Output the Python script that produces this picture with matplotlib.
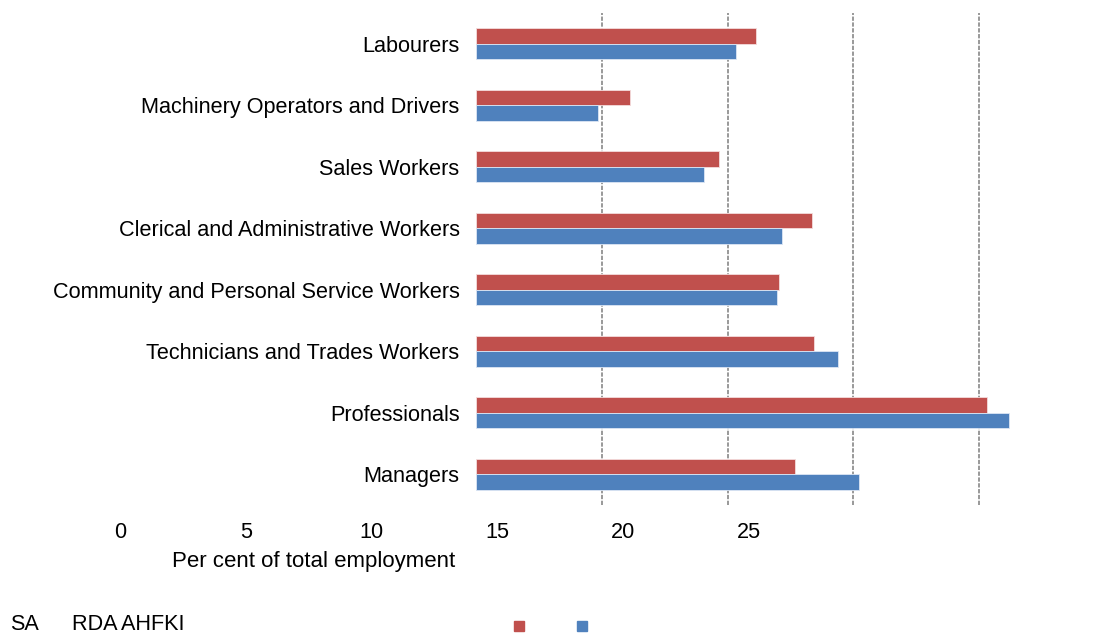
import matplotlib
matplotlib.use("Agg")
import matplotlib.pyplot as plt
import matplotlib.transforms as mtransforms
from matplotlib.patches import Rectangle
import numpy as np

plt.rcParams['font.family'] = ['Liberation Sans', 'DejaVu Sans']

# Occupations, listed bottom to top
occupations = [
    "Managers",
    "Professionals",
    "Technicians and Trades Workers",
    "Community and Personal Service Workers",
    "Clerical and Administrative Workers",
    "Sales Workers",
    "Machinery Operators and Drivers",
    "Labourers",
]
series_names = ["SA", "RDA AHFKI"]
sa_values = [12.68, 20.31, 13.44, 12.05, 13.37, 9.65, 6.14, 11.15]
rda_values = [15.23, 21.18, 14.41, 11.97, 12.18, 9.08, 4.86, 10.35]
x_ticks = [0, 5, 10, 15, 20, 25]
gridlines = [5, 10, 15, 20]
x_label = "Per cent of total employment"

red = "#C0504D"
blue = "#4F81BD"

W, H = 1095, 635
fig = plt.figure(figsize=(W / 100, H / 100), dpi=100)

left_px, right_px = 476, 1104.8
top_px, bottom_px = 13, 505
ax = fig.add_axes([left_px / W, 1 - bottom_px / H,
                   (right_px - left_px) / W, (bottom_px - top_px) / H])

y = np.arange(len(occupations))
bh = 0.25
ax.barh(y + bh / 2, sa_values, height=bh, color=red,
        edgecolor="#f4dcdc", linewidth=0.6, zorder=3)
ax.barh(y - bh / 2, rda_values, height=bh, color=blue,
        edgecolor="#dce6f4", linewidth=0.6, zorder=3)

for g in gridlines:
    ax.axvline(g, color="#999999", linewidth=1.4,
               linestyle=(0, (2.2, 0.8)), zorder=1)

ax.set_xlim(0, 25)
ax.set_ylim(-0.5, len(occupations) - 0.5)
for s in ax.spines.values():
    s.set_visible(False)

ax.set_yticks(y)
ax.set_yticklabels(occupations, fontsize=15.6)
ax.tick_params(axis="y", length=0, pad=11.8)
ax.set_xticks([])

# Value labels along the horizontal scale, set off to the left
shifted = mtransforms.offset_copy(ax.transData, fig=fig, x=-356, y=0, units="dots")
tick_tr = mtransforms.blended_transform_factory(shifted, fig.transFigure)
for t in x_ticks:
    ax.text(t, 1 - 532 / H, str(t), transform=tick_tr, ha="center",
            va="center", fontsize=15.6, clip_on=False)

fig.text(313.5 / W, 1 - 562 / H, x_label, ha="center", va="center", fontsize=16)

# Series key at the foot of the chart
key_y = 1 - 625 / H
fig.text(10 / W, key_y, series_names[0], ha="left", va="center", fontsize=15.6)
fig.text(72 / W, key_y, series_names[1], ha="left", va="center", fontsize=15.6)
for cx, col in [(519, red), (582, blue)]:
    fig.patches.append(Rectangle(((cx - 5) / W, 1 - 631 / H), 10 / W, 10 / H,
                                 transform=fig.transFigure, color=col, figure=fig))

fig.savefig("out.png", dpi=100)
